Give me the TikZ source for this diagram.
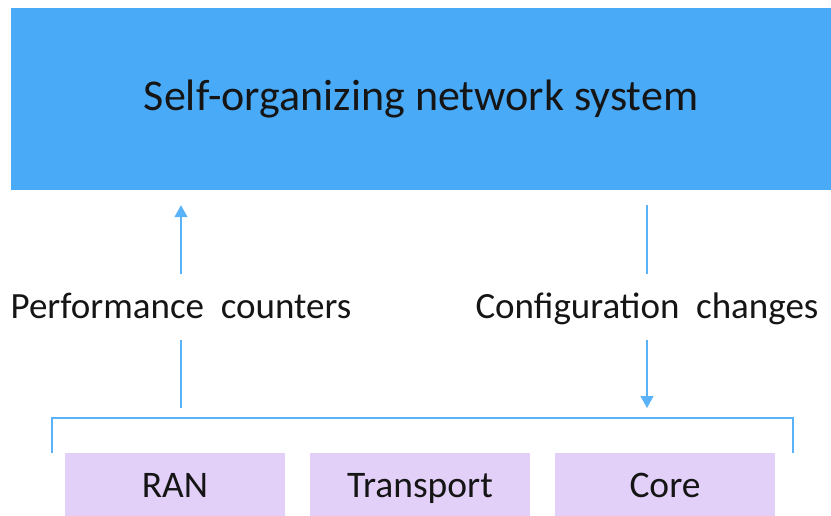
\documentclass[tikz,border=0pt]{standalone}
\usepackage{fontspec}
\setmainfont{Carlito}
\usetikzlibrary{arrows.meta,calc,positioning}
\definecolor{SonBlue}{HTML}{49AAF8}
\definecolor{LinkBlue}{HTML}{5AB3F8}
\definecolor{Lilac}{HTML}{E2D0F9}
\definecolor{Ink}{HTML}{151515}
\tikzset{
  layerbox/.style={fill=Lilac,draw=none,minimum width=220pt,minimum height=63pt,text height=30pt,text depth=4pt,font=\fontsize{37.5}{42}\selectfont,text=Ink},
  flowlabel/.style={minimum height=65pt,inner sep=0pt,text height=26pt,text depth=4pt,font=\fontsize{37}{42}\selectfont,text=Ink},
  busline/.style={draw=LinkBlue,line width=1.1pt},
  flowarrow/.style={-{Triangle[width=13pt,length=12pt]},draw=LinkBlue,fill=LinkBlue,line width=1.1pt}
}

\begin{document}
\begin{tikzpicture}[x=1pt,y=-1pt]
    \useasboundingbox (0,0) rectangle (831,515);
    \node[fill=SonBlue,draw=none,minimum width=820pt,minimum height=182pt,inner sep=0pt,font=\fontsize{44}{50}\selectfont,text=Ink] (son) at (421,99) {Self-organizing network system};
    % lower layer
    \node[layerbox] (ran) at (175,484) {RAN};
    \node[layerbox] (transport) at (420,484) {Transport};
    \node[layerbox] (core) at (665,484) {Core};
    \coordinate (busL) at (52,418);
    \coordinate (busR) at (793,418);
    \draw[busline] ($(busL)+(0,35)$) -- (busL) -- (busR) -- ($(busR)+(0,35)$);
    % feedback and control paths
    \node[flowlabel] (perf) at (181,307) {Performance\ \ counters};
    \node[flowlabel] (conf) at (647,307) {Configuration\ \ changes};
    \draw[busline,shorten <=10pt] (perf |- busL) -- (perf);
    \draw[flowarrow,shorten >=15pt] (perf) -- (perf |- son.south);
    \draw[busline,shorten <=15pt] (conf |- son.south) -- (conf);
    \draw[flowarrow,shorten >=10pt] (conf) -- (conf |- busL);
  \end{tikzpicture}
\end{document}
